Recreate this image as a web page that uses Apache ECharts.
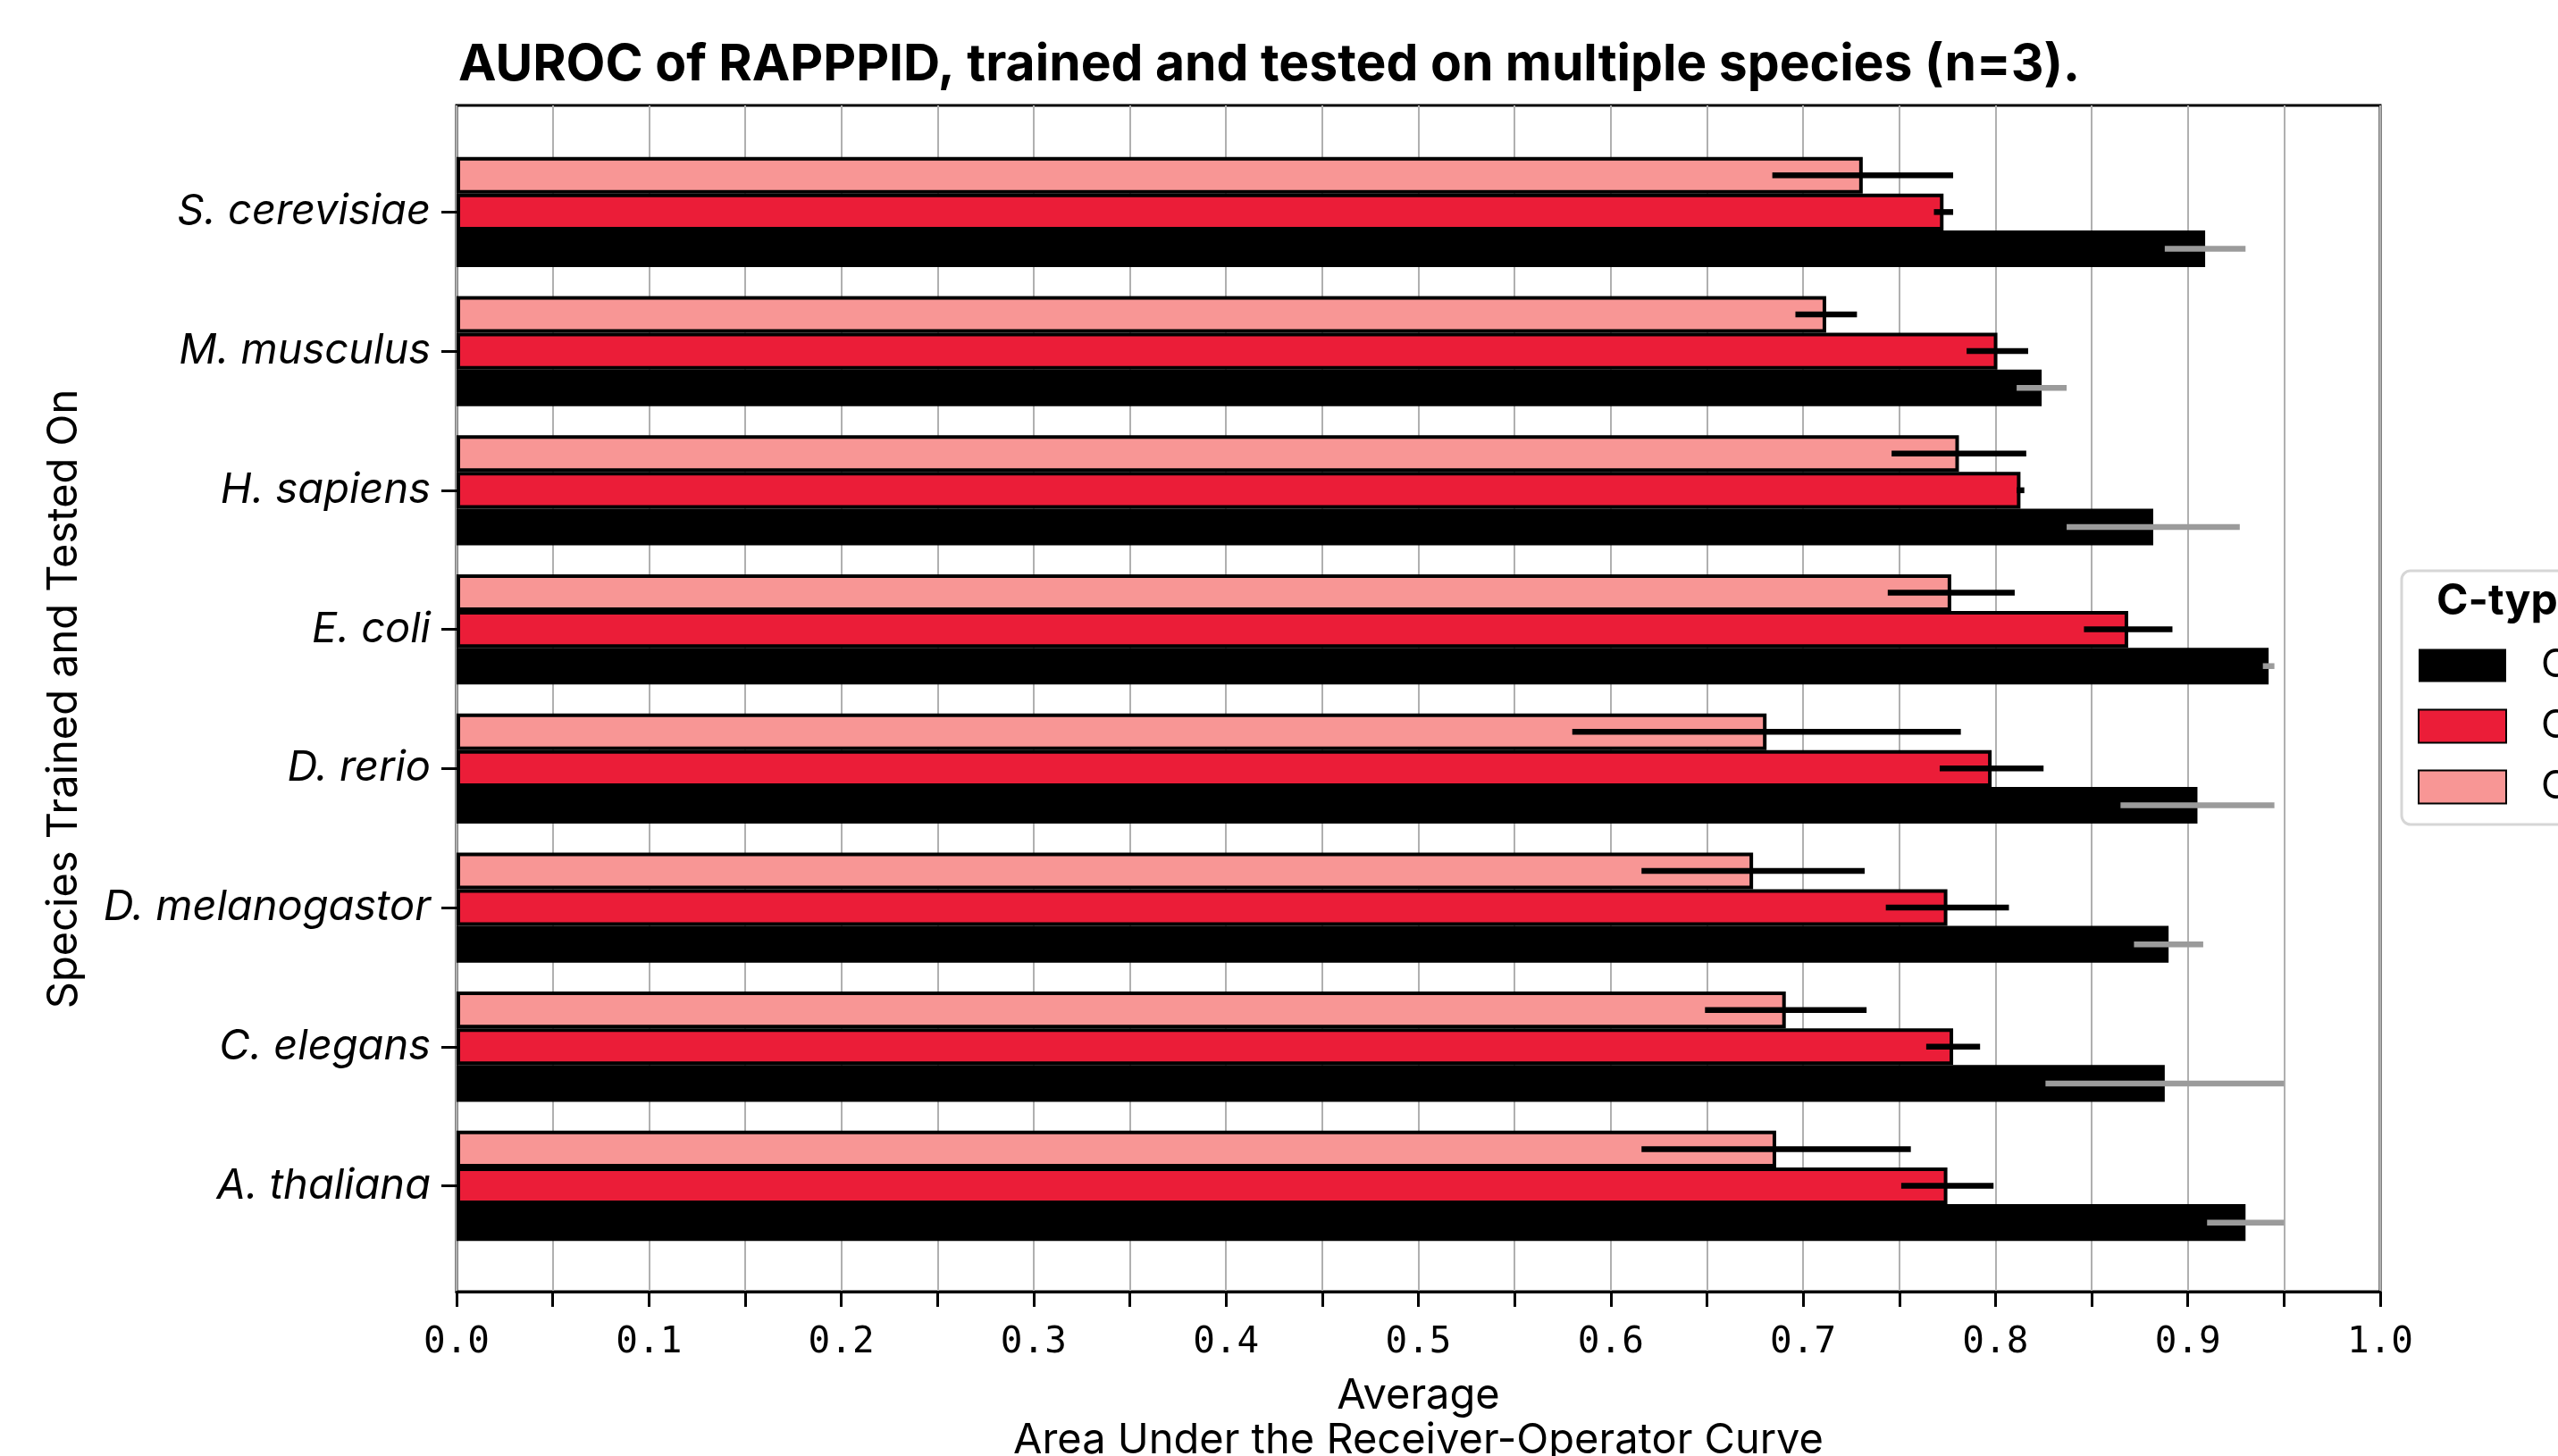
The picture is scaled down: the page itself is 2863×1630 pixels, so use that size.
<!DOCTYPE html>
<html>
<head>
<meta charset="utf-8">
<script src="https://cdn.jsdelivr.net/npm/echarts@6/dist/echarts.min.js"></script>
<style>
  html, body { margin: 0; padding: 0; background: #ffffff; }
  #chart { width: 2863px; height: 1630px; }
</style>
</head>
<body>
<div id="chart"></div>
<script>
// Species, listed top to bottom as they appear on the chart
const species = ['S. cerevisiae', 'M. musculus', 'H. sapiens', 'E. coli',
                 'D. rerio', 'D. melanogastor', 'C. elegans', 'A. thaliana'];

// Mean AUROC over n=3 runs, and the error half-widths, per C-type test set
const c1Mean = [0.909, 0.824, 0.882, 0.942, 0.905, 0.890, 0.888, 0.930];
const c1Err  = [0.021, 0.013, 0.045, 0.003, 0.040, 0.018, 0.062, 0.020];
const c2Mean = [0.773, 0.801, 0.813, 0.869, 0.798, 0.775, 0.778, 0.775];
const c2Err  = [0.005, 0.016, 0.002, 0.023, 0.027, 0.032, 0.014, 0.024];
const c3Mean = [0.731, 0.712, 0.781, 0.777, 0.681, 0.674, 0.691, 0.686];
const c3Err  = [0.047, 0.016, 0.035, 0.033, 0.101, 0.058, 0.042, 0.070];

const cTypes = ['C1', 'C2', 'C3'];

// The category axis runs bottom-up, so flip the top-down lists
const rev = a => a.slice().reverse();
const cats = rev(species);

const BAR_FRAC = 0.264; // share of a category band taken by each bar

// k: 0 = lowest bar of a group, 2 = highest
const groups = [
  { name: cTypes[0], k: 0, mean: rev(c1Mean), err: rev(c1Err), fill: '#000000', border: 0, errColor: '#9b9b9b' },
  { name: cTypes[1], k: 1, mean: rev(c2Mean), err: rev(c2Err), fill: '#eb1d38', border: 4, errColor: '#000000' },
  { name: cTypes[2], k: 2, mean: rev(c3Mean), err: rev(c3Err), fill: '#f89695', border: 4, errColor: '#000000' }
];

// On a vertical category axis the first bar series sits at the top of each band,
// so the bars are added highest-first
const barSeries = groups.slice().reverse().map(g => ({
  name: g.name,
  type: 'bar',
  xAxisIndex: 1,
  yAxisIndex: 1,
  data: g.mean,
  barWidth: (BAR_FRAC * 100) + '%',
  barGap: '0%',
  itemStyle: { color: g.fill, borderColor: '#000000', borderWidth: g.border },
  emphasis: { disabled: true },
  z: 2
}));

// Error bars drawn through the middle of each bar of a group
const errSeries = groups.map(g => ({
  name: g.name + ' error',
  type: 'custom',
  xAxisIndex: 1,
  yAxisIndex: 1,
  z: 3,
  silent: true,
  data: g.mean.map((m, i) => [m - g.err[i], m + g.err[i], i, g.k]),
  encode: { x: [0, 1], y: 2 },
  renderItem: function (params, api) {
    const lo = api.coord([api.value(0), api.value(2)]);
    const hi = api.coord([api.value(1), api.value(2)]);
    const band = api.size([0, 1])[1];
    const dy = (1 - api.value(3)) * band * BAR_FRAC;
    return {
      type: 'line',
      shape: { x1: lo[0], y1: lo[1] + dy, x2: hi[0], y2: hi[1] + dy },
      style: { stroke: g.errColor, lineWidth: 6.5 }
    };
  }
}));

const chart = echarts.init(document.getElementById('chart'), null, { renderer: 'canvas' });

chart.setOption({
  animation: false,
  backgroundColor: '#ffffff',
  title: [
    {
      text: 'AUROC of RAPPPID, trained and tested on multiple species (n=3).',
      left: 513, top: 44, padding: 0,
      textStyle: { fontFamily: 'Inter', fontWeight: 700, fontSize: 57, color: '#000000' }
    },
    {
      text: 'C-type',
      left: 2727, top: 650, padding: 0, z: 10,
      textStyle: { fontFamily: 'Inter', fontWeight: 700, fontSize: 48, color: '#000000' }
    }
  ],
  legend: {
    data: cTypes,
    orient: 'vertical',
    left: 2688, top: 639,
    itemWidth: 98, itemHeight: 37, itemGap: 24,
    padding: [84, 18, 20, 18],
    icon: 'rect',
    selectedMode: false,
    backgroundColor: '#ffffff',
    borderColor: '#d6d6d6', borderWidth: 3, borderRadius: 10,
    textStyle: { fontFamily: 'Inter', fontSize: 44, color: '#000000', padding: [0, 0, 0, 34] }
  },
  grid: [
    // plot frame, value ticks and grid lines
    { left: 511, right: 199, top: 118, bottom: 184, outerBoundsMode: 'none', containLabel: false,
      show: true, borderColor: '#000000', borderWidth: 3, backgroundColor: 'transparent' },
    // category bands holding the bars
    { left: 511, right: 199, top: 159.5, bottom: 224.6, outerBoundsMode: 'none', containLabel: false }
  ],
  xAxis: [
    {
      gridIndex: 0, type: 'value', min: 0, max: 1, interval: 0.1,
      axisLine: { show: true, onZero: false, lineStyle: { color: '#000000', width: 3 } },
      axisTick: { show: true, length: 17, lineStyle: { color: '#000000', width: 3 } },
      minorTick: { show: true, splitNumber: 2, length: 17, lineStyle: { color: '#000000', width: 3 } },
      splitLine: { show: true, lineStyle: { color: '#b0b0b0', width: 2 } },
      minorSplitLine: { show: true, lineStyle: { color: '#b0b0b0', width: 2 } },
      axisLabel: {
        show: true, margin: 37, showMinLabel: true, showMaxLabel: true,
        fontFamily: 'DejaVu Sans Mono', fontSize: 41, color: '#000000',
        formatter: v => v.toFixed(1)
      },
      name: 'Average\nArea Under the Receiver-Operator Curve',
      nameLocation: 'middle', nameGap: 92,
      nameTextStyle: { fontFamily: 'Inter', fontSize: 47, lineHeight: 50, color: '#000000' }
    },
    { gridIndex: 1, type: 'value', min: 0, max: 1, show: false }
  ],
  yAxis: [
    { gridIndex: 0, type: 'value', min: 0, max: 1, show: false },
    {
      gridIndex: 1, type: 'category', data: cats,
      axisLine: { show: false },
      axisTick: { show: true, alignWithLabel: true, length: 17, lineStyle: { color: '#000000', width: 3 } },
      splitLine: { show: false },
      axisLabel: { margin: 29, fontFamily: 'Inter', fontStyle: 'italic', fontSize: 47, color: '#000000' },
      name: 'Species Trained and Tested On',
      nameLocation: 'middle', nameRotate: 90, nameGap: 416,
      nameTextStyle: { fontFamily: 'Inter', fontSize: 47, color: '#000000' }
    }
  ],
  series: barSeries.concat(errSeries)
});
</script>
</body>
</html>
